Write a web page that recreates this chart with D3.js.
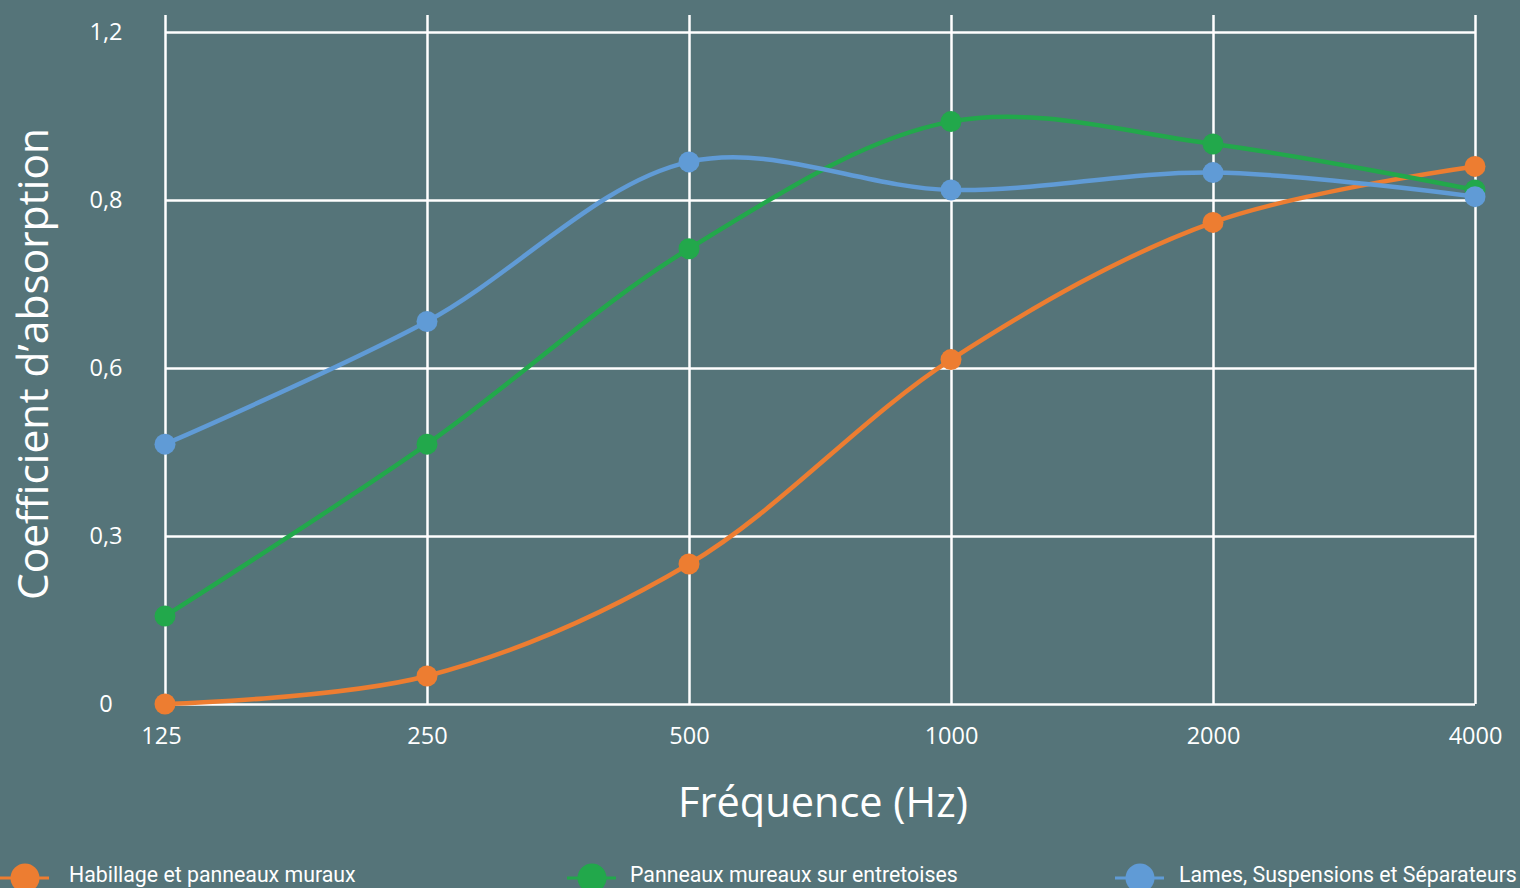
<!DOCTYPE html>
<html>
<head>
<meta charset="utf-8">
<script src="https://cdn.jsdelivr.net/npm/d3@7"></script>
<style>
  html, body { margin: 0; padding: 0; background: #557479; overflow: hidden; }
  svg { display: block; }
</style>
</head>
<body>
<div id="chart"></div>
<script>
'use strict'

// frequencies (Hz)
const categories = ['125', '250', '500', '1000', '2000', '4000']

// absorption coefficients
const habillage = [0.0, 0.05, 0.25, 0.615, 0.86, 0.96]
const entretoises = [0.157, 0.464, 0.813, 1.04, 1.0, 0.918]
const lames = [0.464, 0.683, 0.968, 0.918, 0.949, 0.906]

const yTicks = [0, 0.3, 0.6, 0.9, 1.2]
const yTickLabels = ['0', '0,3', '0,6', '0,8', '1,2']

const series = [
  {name: 'Habillage et panneaux muraux', values: habillage, color: '#ED7D31'},
  {name: 'Panneaux mureaux sur entretoises', values: entretoises, color: '#22A84B'},
  {name: 'Lames, Suspensions et Séparateurs', values: lames, color: '#609BD6'},
]

const W = 1520, H = 888
const plotLeft = 165, plotRight = 1475, plotTop = 32, plotBottom = 704

const svg = d3.select('#chart').append('svg')
  .attr('width', W)
  .attr('height', H)

svg.append('rect').attr('width', W).attr('height', H).attr('fill', '#557479')

const x = d3.scalePoint().domain(categories).range([plotLeft, plotRight])
const y = d3.scaleLinear().domain([0, 1.2]).range([plotBottom, plotTop])

// horizontal grid + y labels
const yAxis = svg.append('g')
  .attr('transform', 'translate(' + plotLeft + ',0)')
  .call(d3.axisLeft(y).tickValues(yTicks).tickSize(-(plotRight - plotLeft)).tickPadding(0)
    .tickFormat((d, i) => yTickLabels[i]))
yAxis.select('.domain').remove()
yAxis.selectAll('.tick line').attr('stroke', '#fff').attr('stroke-width', 2.5)
yAxis.selectAll('.tick text')
  .attr('x', 106 - plotLeft)
  .attr('text-anchor', 'middle')
  .attr('fill', '#fff')
  .style('font-family', '"Open Sans", sans-serif')
  .style('font-size', '23.5px')

// vertical grid + x labels
const xAxis = svg.append('g')
  .attr('transform', 'translate(0,' + plotBottom + ')')
  .call(d3.axisBottom(x).tickSize(-(plotBottom - 15)).tickPadding(0))
xAxis.select('.domain').remove()
xAxis.selectAll('.tick line').attr('stroke', '#fff').attr('stroke-width', 2.5)
xAxis.selectAll('.tick text')
  .attr('x', (d, i) => i === 0 ? -4 : 0)
  .attr('y', 40)
  .attr('dy', 0)
  .attr('fill', '#fff')
  .style('font-family', '"Open Sans", sans-serif')
  .style('font-size', '23.5px')

// axis titles
svg.append('text')
  .attr('x', 823).attr('y', 817)
  .attr('text-anchor', 'middle')
  .attr('fill', '#fff')
  .style('font-family', '"Open Sans", sans-serif')
  .style('font-size', '41.5px')
  .text('Fréquence (Hz)')

svg.append('text')
  .attr('transform', 'translate(48,364)rotate(-90)')
  .attr('text-anchor', 'middle')
  .attr('fill', '#fff')
  .style('font-family', '"Open Sans", sans-serif')
  .style('font-size', '42.5px')
  .text('Coefficient d’absorption')

// lines + markers
const line = d3.line()
  .x((d, i) => x(categories[i]))
  .y(d => y(d))
  .curve(d3.curveCatmullRom.alpha(0.5))

series.forEach(s => {
  svg.append('path')
    .attr('d', line(s.values))
    .attr('fill', 'none')
    .attr('stroke', s.color)
    .attr('stroke-width', 4.5)
  svg.append('g').selectAll('circle')
    .data(s.values)
    .enter().append('circle')
    .attr('cx', (d, i) => x(categories[i]))
    .attr('cy', d => y(d))
    .attr('r', 10.5)
    .attr('fill', s.color)
})

// legend
const legendCircleX = [25, 592, 1140]
const legendTextX = [69, 630, 1179]
series.forEach((s, i) => {
  const cx = legendCircleX[i]
  const g = svg.append('g').attr('transform', 'translate(0,878)')
  g.append('line').attr('x1', cx - 25).attr('x2', cx + 24).attr('stroke', s.color).attr('stroke-width', 3)
  g.append('circle').attr('cx', cx).attr('r', 14.5).attr('fill', s.color)
  g.append('text')
    .attr('x', legendTextX[i]).attr('y', 4)
    .attr('fill', '#fff')
    .style('font-family', 'Roboto, sans-serif')
    .style('font-size', '21.3px')
    .text(s.name)
})
</script>
</body>
</html>
